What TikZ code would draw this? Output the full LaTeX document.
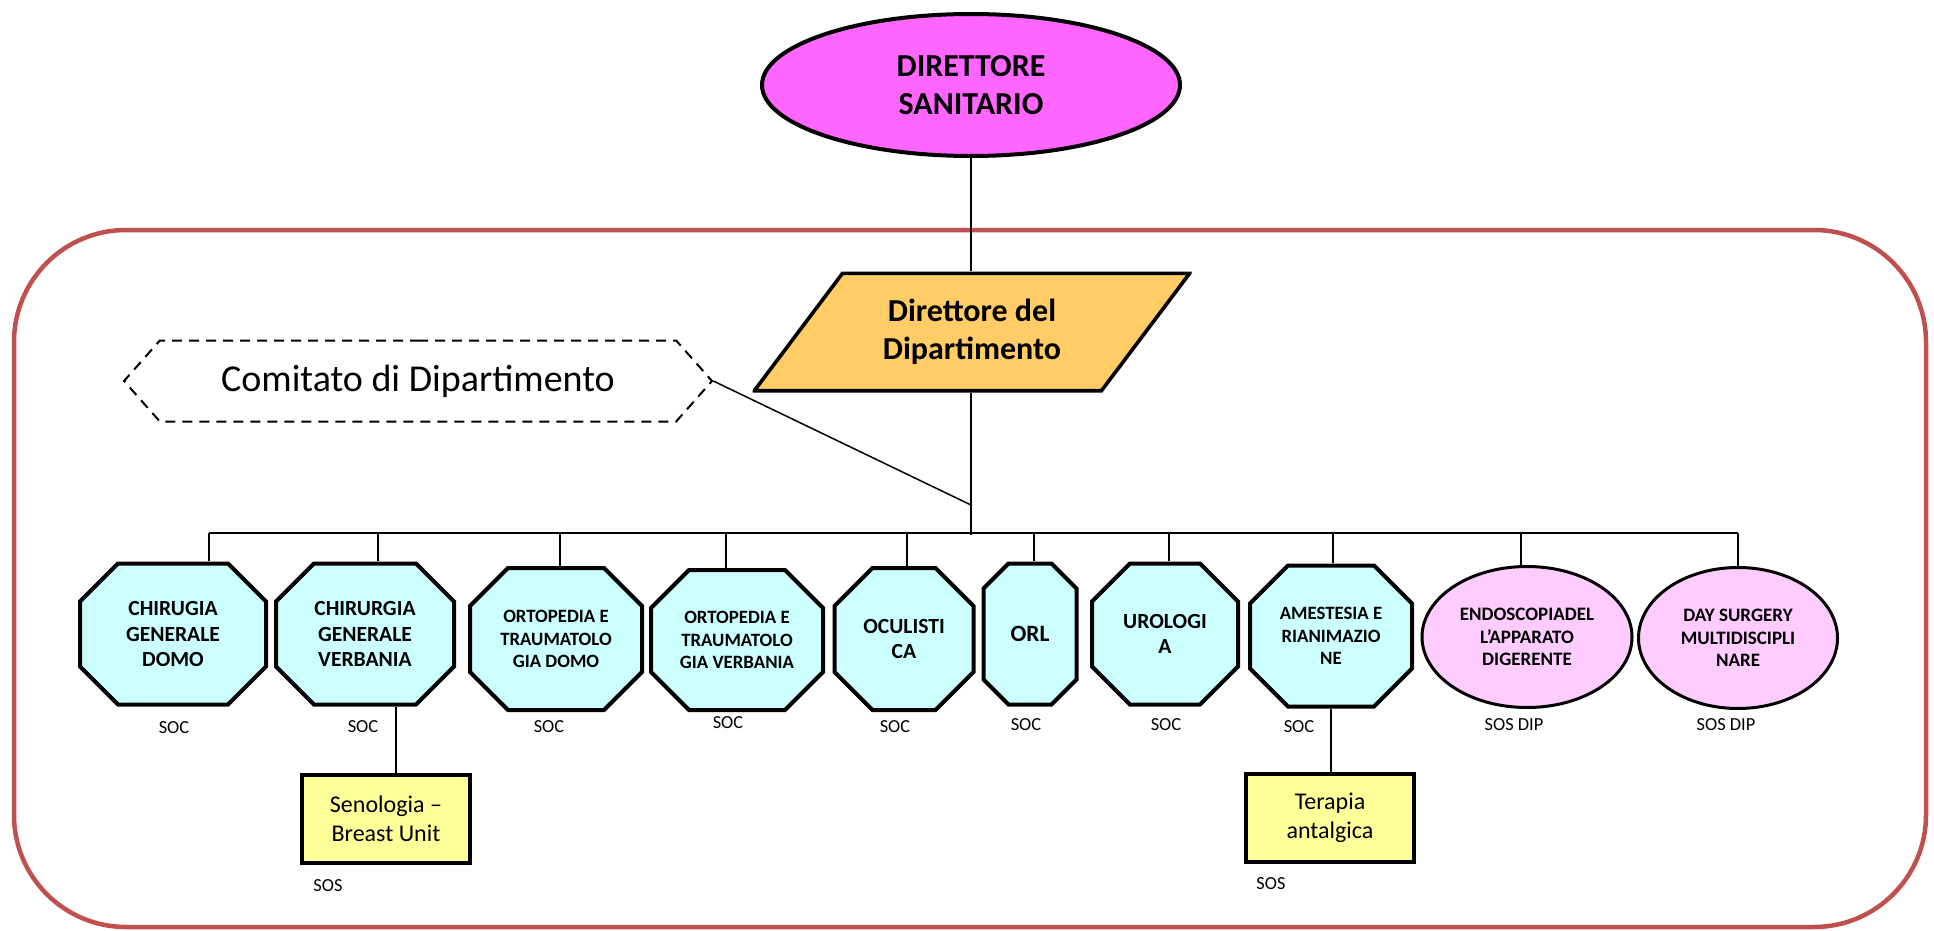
\documentclass[tikz,border=0pt]{standalone}
\usepackage{fontspec}
\setmainfont{Carlito}
\usetikzlibrary{shapes.geometric,shapes.symbols,positioning}
\definecolor{bordo}{HTML}{C0504D}
\definecolor{fucsia}{HTML}{FF66FF}
\definecolor{arancio}{HTML}{FFCC66}
\definecolor{ciano}{HTML}{CCFFFF}
\definecolor{rosa}{HTML}{FFCCFF}
\definecolor{giallo}{HTML}{FFFF99}
\tikzset{otto/.style={rectangle,inner sep=0pt,minimum height=72.5pt,align=center,font=\bfseries\fontsize{10.8}{12.6}\selectfont,
    path picture={\draw[line width=2pt,fill=ciano]
      ([shift={(#1,-1pt)}]path picture bounding box.north west) -- ([shift={(-#1,-1pt)}]path picture bounding box.north east) --
      ([shift={(-1pt,-#1)}]path picture bounding box.north east) -- ([shift={(-1pt,#1)}]path picture bounding box.south east) --
      ([shift={(-#1,1pt)}]path picture bounding box.south east) -- ([shift={(#1,1pt)}]path picture bounding box.south west) --
      ([shift={(1pt,#1)}]path picture bounding box.south west) -- ([shift={(1pt,-#1)}]path picture bounding box.north west) -- cycle;}},
  otto/.default=20pt}
\tikzset{parall/.style={rectangle,inner sep=0pt,align=center,font=\bfseries\fontsize{16}{19}\selectfont,
    path picture={\draw[line width=1.8pt,fill=arancio]
      ([shift={(#1,-0.9pt)}]path picture bounding box.north west) -- ([shift={(-0.9pt,-0.9pt)}]path picture bounding box.north east) --
      ([shift={(-#1,0.9pt)}]path picture bounding box.south east) -- ([shift={(0.9pt,0.9pt)}]path picture bounding box.south west) -- cycle;}}}
\tikzset{piccolo/.style={font=\bfseries\fontsize{9.4}{11.2}\selectfont}}
\tikzset{ovale/.style={ellipse,draw,line width=1.5pt,fill=rosa,inner sep=0pt,minimum height=70.5pt,align=center,font=\bfseries\fontsize{9.5}{11.3}\selectfont}}
\tikzset{riquadro/.style={rectangle,draw,line width=2pt,fill=giallo,minimum width=84pt,minimum height=44pt,align=center,font=\fontsize{12}{14.4}\selectfont}}
\begin{document}
\begin{tikzpicture}[x=0.5pt,y=-0.5pt,font=\fontsize{9.2}{11}\selectfont]
        \useasboundingbox (0,0) rectangle (1934,931);
        \draw[bordo,line width=2.25pt,rounded corners=56pt] (14,230) rectangle (1926,927);
        % vertice
        \node(ds)[ellipse,draw,line width=2pt,fill=fucsia,minimum width=209pt,minimum height=71pt,align=center,font=\bfseries\fontsize{16}{19}\selectfont] at (971,85) {DIRETTORE\\SANITARIO};
        \node(dd)[parall=45pt,minimum width=219.5pt,minimum height=60.5pt] at (972,332) {Direttore del\\Dipartimento};
        \node(cd)[signal,signal to=west and east,signal pointer angle=97,draw,dash pattern=on 5pt off 3.5pt,line width=1pt,minimum width=294pt,minimum height=40.5pt,label={[font=\fontsize{19}{23}\selectfont]center:Comitato di Dipartimento}] at (418,381) {};
        \coordinate(bl) at (209,533);
        \coordinate(br) at (1738,533);
        \coordinate(cj) at (971,505);
        \draw[line width=1.3pt] (ds.south) -- (dd.north -| ds.south);
        \draw[line width=1.3pt] (dd.south -| ds.south) -- ([yshift=-1pt]ds.south |- bl);
        \draw[line width=1.3pt] (bl) -- (br);
        \draw[line width=0.75pt] (cd.east) -- (cj);
        % strutture
        \node(o1)[otto,minimum width=95pt] at (173,634) {CHIRUGIA\\GENERALE\\DOMO};
        \node(o2)[otto,minimum width=91pt] at (365,634) {CHIRURGIA\\GENERALE\\VERBANIA};
        \node(o3)[otto,piccolo,minimum width=88pt,minimum height=73pt] at (556,639) {ORTOPEDIA E\\TRAUMATOLO\\GIA DOMO};
        \node(o4)[otto,piccolo,minimum width=88pt,minimum height=72pt] at (737,640) {ORTOPEDIA E\\TRAUMATOLO\\GIA VERBANIA};
        \node(o5)[otto,minimum width=71.5pt,minimum height=73pt] at (904,639) {OCULISTI\\CA};
        \node(o6)[otto=13.5pt,minimum width=48.5pt,font=\bfseries\fontsize{11.7}{14}\selectfont] at (1030,634) {ORL};
        \node(o7)[otto,minimum width=75pt] at (1165,634) {UROLOGI\\A};
        \node(o8)[otto,piccolo,minimum width=83pt] at (1331,636) {AMESTESIA E\\RIANIMAZIO\\NE};
        \node(e1)[ovale,minimum width=105pt] at (1527,637) {ENDOSCOPIADEL\\L’APPARATO\\DIGERENTE};
        \node(e2)[ovale,minimum width=99.5pt] at (1738,638) {DAY SURGERY\\MULTIDISCIPLI\\NARE};
        \foreach \n/\x/\w in {o1/209/1,o2/378/1.4,o3/560/1,o4/726/1,o5/907/1.4,o6/1034/1,o7/1169/1,o8/1333/1,e1/1521/1,e2/1738/1.4}
          \draw[line width=\w pt] (\x,533) -- (\n.north -| \x,0);
        % sos
        \node(sb)[riquadro] at (386,819) {Senologia –\\Breast Unit};
        \node(ta)[riquadro] at (1330,818) {Terapia\\antalgica};
        \draw[line width=1pt] (o2.south -| 396,0) -- (sb.north -| 396,0);
        \draw[line width=1pt] (o8.south -| 1331,0) -- (ta.north -| 1331,0);
        \foreach \x/\y/\t [count=\i] in {174/728/SOC,363/727/SOC,549/727/SOC,728/723/SOC,895/727/SOC,1026/725/SOC,1166/725/SOC,1299/727/SOC,1514/725/SOS DIP,1726/725/SOS DIP,328/886/SOS,1271/884/SOS}
          \node(s\i) at (\x,\y) {\t};
\end{tikzpicture}
\end{document}
